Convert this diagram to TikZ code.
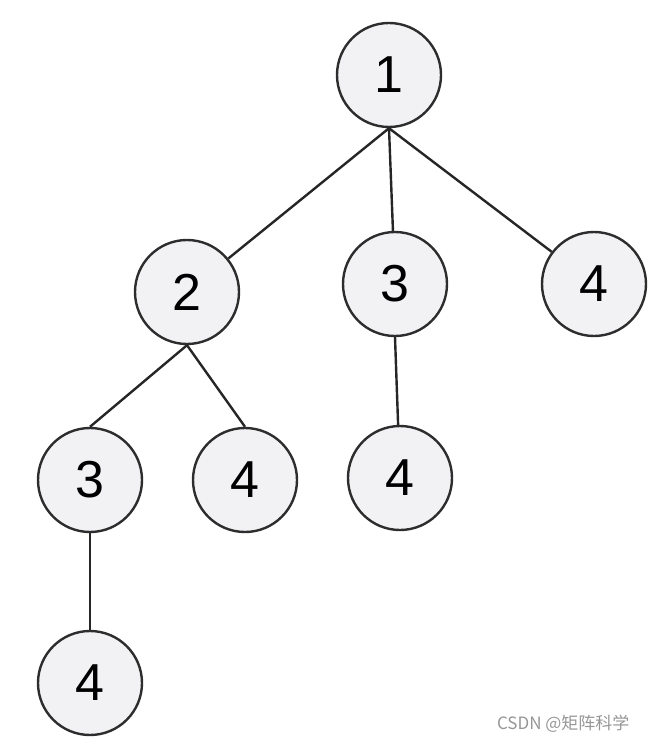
\documentclass[tikz,border=0pt]{standalone}
\usepackage{fontspec}
\setmainfont{Liberation Sans}
\newfontfamily\cjk{Noto Sans CJK SC}
\usepackage{tikz}

\definecolor{nodefill}{RGB}{242,242,245}
\definecolor{nodeline}{RGB}{45,45,45}
\definecolor{markgray}{RGB}{150,150,150}

\begin{document}
\begin{tikzpicture}[x=1pt, y=-1pt,
    treenode/.style={circle, draw=nodeline, fill=nodefill, line width=2.4pt,
      minimum size=104pt, inner sep=0pt, font=\fontsize{52}{60}\selectfont},
    treeedge/.style={draw=black!85, line width=2.4pt}]
  \useasboundingbox (0,0) rectangle (648,746);

  \node[treenode] (root) at (389,75) {1};
  \node[treenode] (two) at (187,292) {2};
  \node[treenode] (three) at (395,284) {3};
  \node[treenode] (fourA) at (594,284) {4};
  \node[treenode] (threeB) at (90,480) {3};
  \node[treenode] (fourB) at (245,480) {4};
  \node[treenode] (fourC) at (400,478) {4};
  \node[treenode] (fourD) at (90,683) {4};

  \draw[treeedge] (root.south) -- (two);
  \draw[treeedge] (root.south) -- (three);
  \draw[treeedge] (root.south) -- (fourA);
  \draw[treeedge] (two.south) -- (threeB.north);
  \draw[treeedge] (two.south) -- (fourB.north);
  \draw[treeedge] (three.south) -- (fourC);
  \draw[treeedge] (threeB.south) -- (fourD);

  % watermark
  \node[anchor=east, text=markgray, font=\cjk\fontsize{17}{20}\selectfont] (mark) at (633,724) {CSDN @矩阵科学};
\end{tikzpicture}
\end{document}
